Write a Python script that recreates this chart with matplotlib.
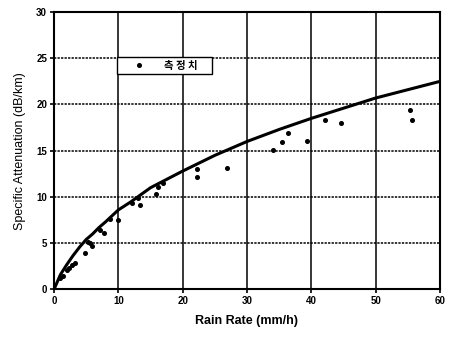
import matplotlib
matplotlib.use("Agg")
import matplotlib.pyplot as plt

# Measured specific attenuation vs rain rate
meas_rain = [0.9, 1.4, 2.0, 2.3, 2.8, 3.3, 4.8, 5.3, 5.6, 5.9, 7.2, 7.8, 8.7, 10.0,
             12.2, 13.1, 13.3, 15.9, 16.2, 17.0, 22.2, 22.2, 26.9, 34.1, 35.4, 36.4,
             39.4, 42.1, 44.6, 55.3, 55.6]
meas_att = [1.2, 1.5, 2.1, 2.3, 2.7, 2.9, 3.9, 5.1, 5.0, 4.7, 6.4, 6.1, 7.6, 7.5,
            9.4, 9.9, 9.1, 10.3, 11.1, 11.5, 13.0, 12.2, 13.1, 15.1, 15.9, 16.9,
            16.1, 18.3, 18.0, 19.4, 18.3]

# Predicted attenuation curve
model_rain = [0, 1, 2, 3, 4, 5, 6, 7, 8, 10, 12, 15, 20, 25, 30, 35, 40, 45, 50, 55, 60]
model_att = [0, 1.6, 2.7, 3.7, 4.6, 5.4, 6.0, 6.7, 7.3, 8.6, 9.5, 11.0, 12.8, 14.5,
             16.0, 17.3, 18.5, 19.6, 20.7, 21.6, 22.5]

x_ticks = [0, 10, 20, 30, 40, 50, 60]
y_ticks = [0, 5, 10, 15, 20, 25, 30]
legend_label = "측 정 치"

fig = plt.figure(figsize=(4.59, 3.37), dpi=100)
ax = fig.add_axes([0.1176, 0.141, 0.841, 0.8234])

ax.set_xlim(0, 60)
ax.set_ylim(0, 30)
ax.set_xticks(x_ticks)
ax.set_yticks(y_ticks)

for xv in x_ticks[1:-1]:
    ax.axvline(xv, color="black", lw=1.1, zorder=1)
for yv in y_ticks[1:-1]:
    ax.axhline(yv, color="black", lw=1.1, ls=(0, (1.5, 0.8)), zorder=1)

ax.plot(model_rain, model_att, color="black", lw=2.2, zorder=3)
ax.plot(meas_rain, meas_att, ls="none", marker="o", ms=2.6, color="black",
        label=legend_label, zorder=4)

for s in ax.spines.values():
    s.set_linewidth(1.5)
    s.set_color("black")

ax.tick_params(axis="both", direction="out", length=3, width=1.2,
               labelsize=7, pad=2)
for lab in ax.get_xticklabels() + ax.get_yticklabels():
    lab.set_fontweight("bold")
    lab.set_family("Liberation Sans")

ax.set_xlabel("Rain Rate (mm/h)", fontsize=9, family="Liberation Sans",
              fontweight="bold", labelpad=6)
ax.set_ylabel("Specific Attenuation (dB/km)", fontsize=9,
              family="Liberation Sans", labelpad=7)

leg = ax.legend(loc="upper left", bbox_to_anchor=(0.164, 0.838, 0.246, 0.0),
                mode="expand", borderaxespad=0, frameon=True,
                fancybox=False, handlelength=3.4, handletextpad=0.7,
                borderpad=0.35, markerscale=1.0,
                prop={"family": ["Noto Sans CJK KR", "DejaVu Sans"],
                      "weight": "bold", "size": 7.5})
leg.get_frame().set_edgecolor("black")
leg.get_frame().set_linewidth(1.0)
leg.get_frame().set_alpha(1.0)

fig.savefig("out.png", dpi=100)
